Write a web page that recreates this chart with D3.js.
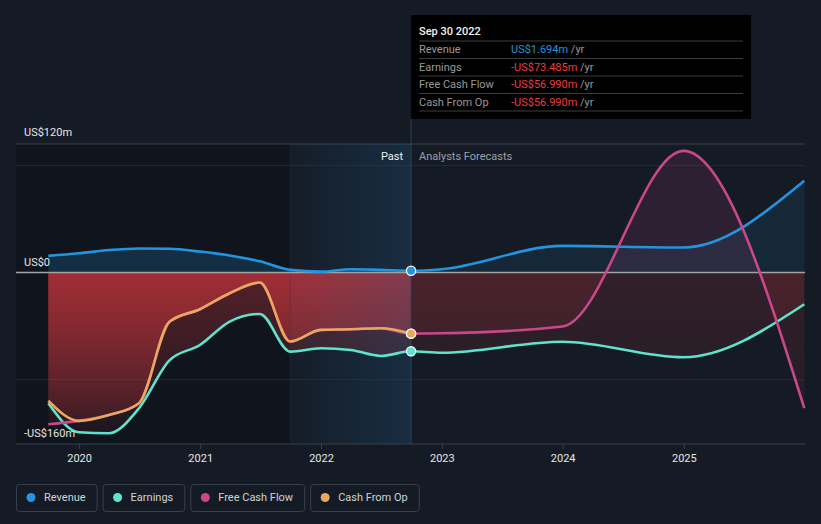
<!DOCTYPE html>
<html><head><meta charset="utf-8">
<script src="https://cdn.jsdelivr.net/npm/d3@7"></script>
<style>
body{margin:0;background:#151b25;}
svg{display:block;font-family:Roboto,"Noto Sans",sans-serif;}
</style>
</head><body>
<svg id="c" width="821" height="524"></svg>
<script>
// ---- data ----
const pastDates = ["2019-09-30","2019-12-31","2020-03-31","2020-06-30","2020-09-30","2020-12-31","2021-03-31","2021-06-30","2021-09-30","2021-12-31","2022-03-31","2022-06-30","2022-09-30"];
const forecastDates = ["2022-12-31","2023-12-31","2024-12-31","2025-12-31"];
const revenuePast = [15.6,18,21,22.5,22.2,19.6,16,10.5,2.5,0.9,3.1,2.5,1.694];
const revenueForecast = [3.1,24.9,23.4,85.7];
const earningsPast = [-122,-149,-150,-126.6,-82,-67.6,-45.7,-38.6,-73.8,-70.7,-72.2,-77.8,-73.485];
const earningsForecast = [-74.8,-64.5,-79,-29.6];
const fcfPast = [-141.5,-138.4,-133,-121.9,-46,-34.2,-19.3,-9.3,-64.4,-53.5,-52.9,-52,-56.99];
const fcfForecast = [-56.7,-50.4,113.6,-126.6];
const cfoPast = [-119.6,-138.4,-133,-121.9,-46,-34.2,-19.3,-9.3,-64.4,-53.5,-52.9,-52,-56.99];
const cfoForecast = [];
const seriesNames = ["Revenue","Earnings","Free Cash Flow","Cash From Op"];
const seriesColors = ["#2394df","#5fe3cc","#c8488a","#e8a85e"];
const yLabelValues = [120,0,-160];
const yLabelTexts = ["US$120m","US$0","-US$160m"];
const gridValues = [100,-100];
const xTickYears = [2020,2021,2022,2023,2024,2025];
const tooltipDate = "Sep 30 2022";
const tooltipValues = ["US$1.694m","-US$73.485m","-US$56.990m","-US$56.990m"];
const tooltipValueColors = ["#2394df","#ef3b3b","#ef3b3b","#ef3b3b"];

// ---- setup ----
const parse = d3.timeParse("%Y-%m-%d");
const svg = d3.select("#c");
const W = 821, H = 524;
const x = d3.scaleTime().domain([parse("2019-09-30"), parse("2025-12-31")]).range([48.3, 804.3]);
const y = d3.scaleLinear().domain([-160,120]).range([444,144]);
const left = 16, right = 805;
const lastPast = parse(pastDates[pastDates.length-1]);
const xNow = x(lastPast);
const xHl = x(parse("2021-09-30"));

const series = [
  {key:"rev", past:revenuePast, fc:revenueForecast},
  {key:"earn", past:earningsPast, fc:earningsForecast},
  {key:"fcf", past:fcfPast, fc:fcfForecast},
  {key:"cfo", past:cfoPast, fc:cfoForecast}
].map((s,i)=>{
  const pts = s.past.map((v,j)=>({d:parse(pastDates[j]), v}))
    .concat(s.fc.map((v,j)=>({d:parse(forecastDates[j]), v})));
  return {...s, name:seriesNames[i], color:seriesColors[i], pts};
});

svg.append("rect").attr("width",W).attr("height",H).attr("fill","#151b25");

const defs = svg.append("defs");
defs.append("clipPath").attr("id","clipPast").append("rect")
  .attr("x",0).attr("y",0).attr("width",xNow).attr("height",H);
defs.append("clipPath").attr("id","clipFc").append("rect")
  .attr("x",xNow).attr("y",0).attr("width",W-xNow).attr("height",H);

const zeroFrac = (y(0)-y(120))/(y(-160)-y(120));
function makeGrad(id, color, posOp, negTop, negBot){
  const g = defs.append("linearGradient").attr("id",id)
    .attr("gradientUnits","userSpaceOnUse")
    .attr("x1",0).attr("x2",0).attr("y1",y(120)).attr("y2",y(-160));
  g.append("stop").attr("offset",0).attr("stop-color",color).attr("stop-opacity",posOp);
  g.append("stop").attr("offset",zeroFrac).attr("stop-color",color).attr("stop-opacity",posOp);
  g.append("stop").attr("offset",zeroFrac).attr("stop-color","#e0383f").attr("stop-opacity",negTop);
  g.append("stop").attr("offset",1).attr("stop-color","#e0383f").attr("stop-opacity",negBot);
}
series.forEach(s=>{
  const fPos = s.key==="rev"?0.1:0.13;
  makeGrad("gp-"+s.key, s.color, 0.2, 0.33, 0.04);
  makeGrad("gf-"+s.key, s.color, fPos, 0.14, 0.06);
});
const hl = defs.append("linearGradient").attr("id","hlGrad").attr("x1",0).attr("x2",1).attr("y1",0).attr("y2",0);
hl.append("stop").attr("offset",0).attr("stop-color","#1e6496").attr("stop-opacity",0.03);
hl.append("stop").attr("offset",1).attr("stop-color","#1e6496").attr("stop-opacity",0.25);

// past dark region
svg.append("rect").attr("x",left).attr("y",y(120)).attr("width",xHl-left).attr("height",y(-160)-y(120))
  .attr("fill","#000").attr("opacity",0.2);

// gridlines
svg.selectAll(".grid").data(gridValues).join("line")
  .attr("x1",left).attr("x2",right).attr("y1",d=>y(d)).attr("y2",d=>y(d))
  .attr("stroke","#242a33").attr("stroke-width",1);
svg.append("line").attr("x1",left).attr("x2",right).attr("y1",y(120)).attr("y2",y(120))
  .attr("stroke","#3a4049").attr("stroke-width",1);

// areas
const area = d3.area().x(d=>x(d.d)).y0(y(0)).y1(d=>y(d.v)).curve(d3.curveMonotoneX);
series.forEach(s=>{
  svg.append("path").datum(s.pts).attr("d",area).attr("fill","url(#gp-"+s.key+")").attr("clip-path","url(#clipPast)");
  if (s.fc.length) svg.append("path").datum(s.pts).attr("d",area).attr("fill","url(#gf-"+s.key+")").attr("clip-path","url(#clipFc)");
});

// highlight overlay
svg.append("rect").attr("x",xHl).attr("y",y(120)).attr("width",xNow-xHl).attr("height",y(-160)-y(120))
  .attr("fill","url(#hlGrad)");
svg.append("line").attr("x1",xHl).attr("x2",xHl).attr("y1",y(120)).attr("y2",y(-160))
  .attr("stroke","#2b3d50").attr("stroke-opacity",0.3);

// zero line
svg.append("line").attr("x1",left).attr("x2",right).attr("y1",y(0)).attr("y2",y(0))
  .attr("stroke","#a3a3a3").attr("stroke-width",1.5);

// lines
const line = d3.line().x(d=>x(d.d)).y(d=>y(d.v)).curve(d3.curveMonotoneX);
series.forEach(s=>{
  svg.append("path").datum(s.pts).attr("d",line).attr("fill","none")
    .attr("stroke",s.color).attr("stroke-width",2.6);
});

// vertical now line
svg.append("line").attr("x1",xNow).attr("x2",xNow).attr("y1",119).attr("y2",y(-160))
  .attr("stroke","#2c3f52").attr("stroke-width",1);

// dots
series.forEach(s=>{
  const p = s.pts[pastDates.length-1];
  svg.append("circle").attr("cx",x(p.d)).attr("cy",y(p.v)).attr("r",4.6)
    .attr("fill",s.color).attr("stroke","#fff").attr("stroke-width",1.3);
});

// y labels
svg.selectAll(".ylab").data(yLabelValues).join("text")
  .attr("x",24).attr("y",(d,i)=>y(d)-(i===0?8:7)).text((d,i)=>yLabelTexts[i])
  .attr("fill","#e6e6e6").attr("font-size",11);

// Past / Analysts Forecasts
svg.append("text").attr("x",xNow-8).attr("y",160).attr("text-anchor","end")
  .attr("fill","#eeeeee").attr("font-size",11).text("Past");
svg.append("text").attr("x",xNow+8).attr("y",160)
  .attr("fill","#9aa0a7").attr("font-size",11).text("Analysts Forecasts");

// x axis
svg.append("line").attr("x1",left).attr("x2",right).attr("y1",y(-160)).attr("y2",y(-160))
  .attr("stroke","#3a4049").attr("stroke-width",1);
const xAxis = svg.append("g").attr("transform",`translate(0,${y(-160)})`)
  .call(d3.axisBottom(x).tickValues(xTickYears.map(v=>new Date(v,0,1))).tickFormat(d3.timeFormat("%Y")).tickSize(5).tickPadding(5));
xAxis.select(".domain").remove();
xAxis.selectAll(".tick line").attr("stroke","#3a4049");
xAxis.selectAll(".tick text").attr("fill","#e6e6e6").attr("font-size",11).attr("font-family","Roboto,'Noto Sans',sans-serif");

// tooltip
const tt = svg.append("g");
tt.append("rect").attr("x",xNow).attr("y",15).attr("width",340).attr("height",104).attr("fill","#000");
tt.append("text").attr("x",419).attr("y",35).attr("fill","#f2f2f2").attr("font-size",11).attr("font-weight",500).text(tooltipDate);
const sepY = [41,58.5,76,93.5,111];
sepY.forEach(v=>tt.append("line").attr("x1",419).attr("x2",743).attr("y1",v).attr("y2",v).attr("stroke","#3c3c3c").attr("stroke-width",1));
seriesNames.forEach((n,i)=>{
  const by = 53 + i*17.5;
  tt.append("text").attr("x",419).attr("y",by).attr("fill","#999").attr("font-size",11).text(n);
  const t = tt.append("text").attr("x",511).attr("y",by).attr("font-size",11);
  t.append("tspan").attr("fill",tooltipValueColors[i]).text(tooltipValues[i]);
  t.append("tspan").attr("fill","#999").text(" /yr");
});

// legend
let lx = 16;
seriesNames.forEach((n,i)=>{
  const g = svg.append("g");
  const txt = g.append("text").attr("x",lx+28).attr("y",501).attr("fill","#cfd2d6").attr("font-size",11).text(n);
  const w = txt.node().getComputedTextLength();
  const bw = 28 + w + 11;
  g.insert("rect","text").attr("x",lx+0.5).attr("y",484.5).attr("width",bw).attr("height",27).attr("rx",3)
    .attr("fill","none").attr("stroke","#3a3f49").attr("stroke-width",1);
  g.append("circle").attr("cx",lx+15).attr("cy",497.5).attr("r",4.5).attr("fill",seriesColors[i]);
  lx += bw + 6;
});
</script>
</body></html>
